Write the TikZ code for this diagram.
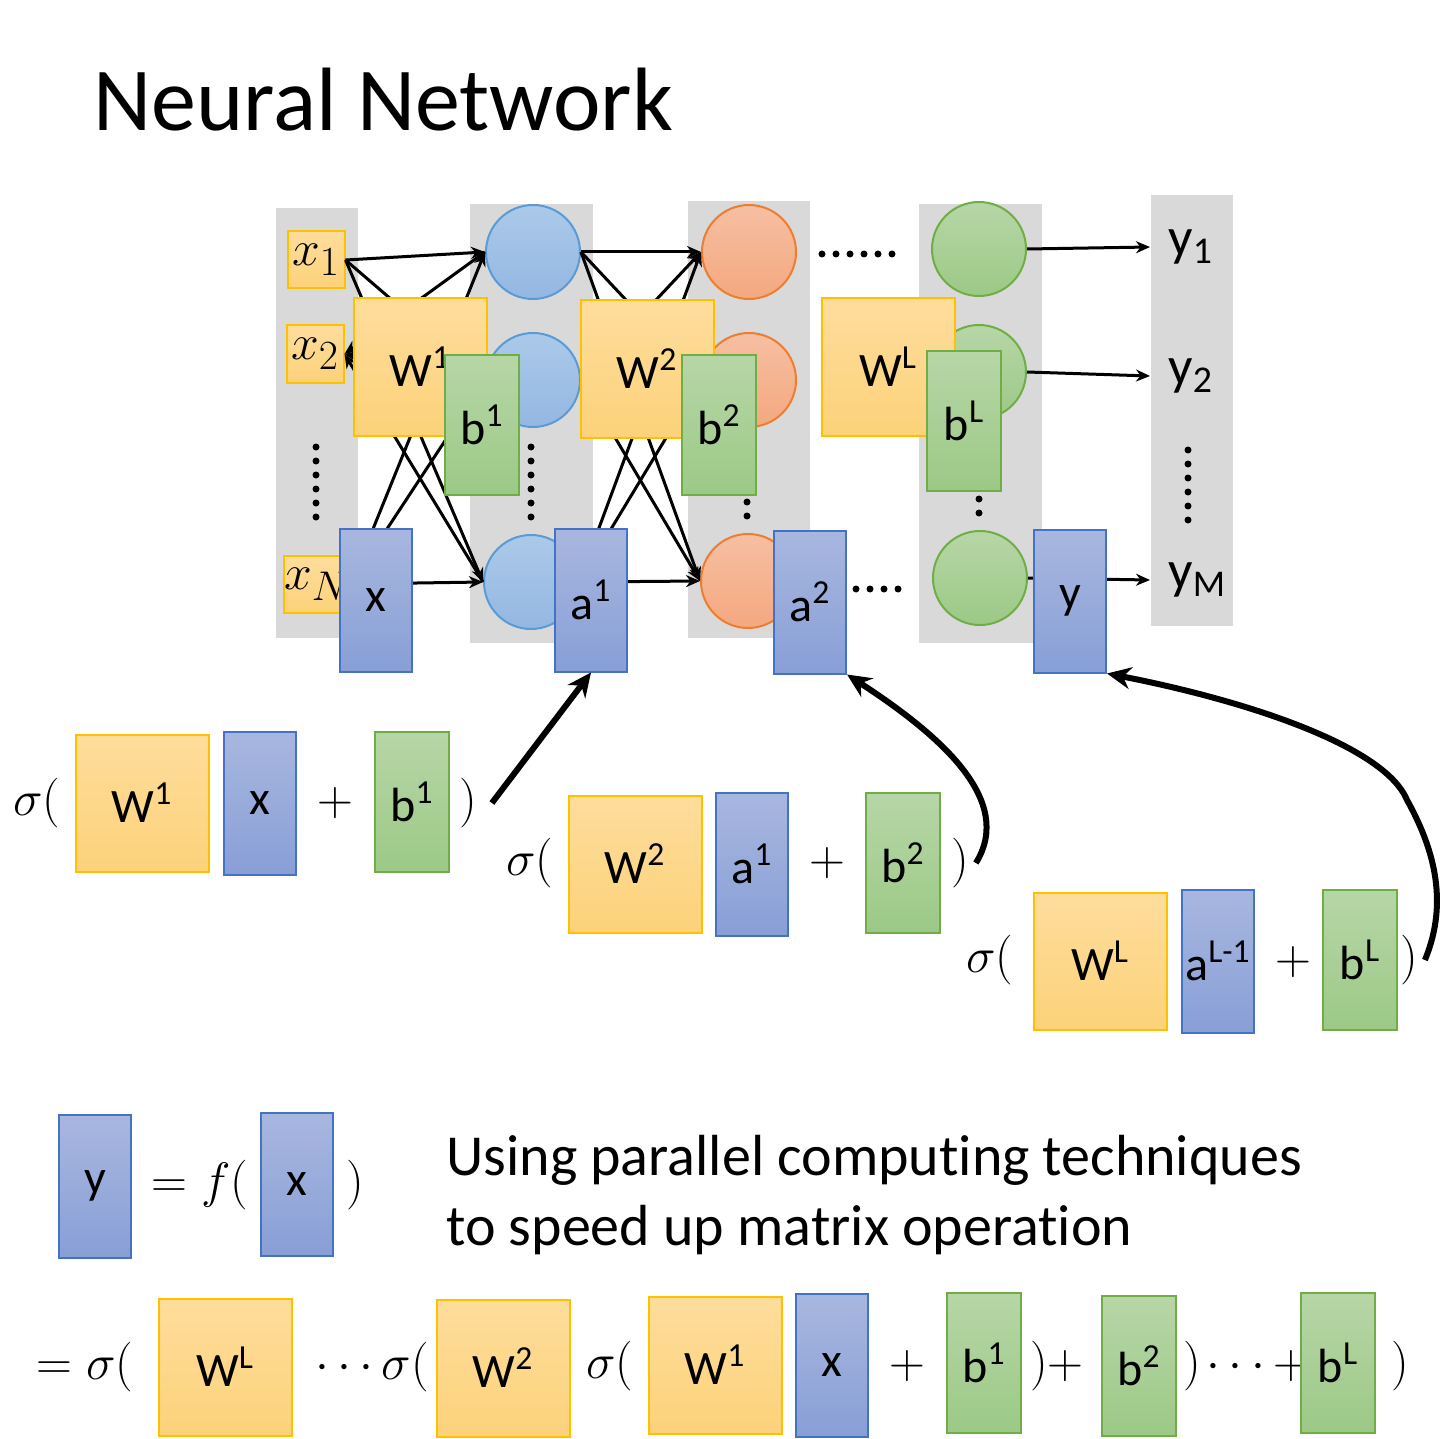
\documentclass[tikz,border=0pt]{standalone}
\usepackage{fontspec}
\setmainfont{Carlito}[Ligatures=NoCommon]
\usetikzlibrary{arrows.meta}

\definecolor{colbg}{RGB}{217,217,217}
\definecolor{wtop}{RGB}{254,221,156}
\definecolor{wbot}{RGB}{252,210,122}
\definecolor{wline}{RGB}{255,192,0}
\definecolor{vtop}{RGB}{168,183,223}
\definecolor{vbot}{RGB}{136,159,214}
\definecolor{vline}{RGB}{68,114,196}
\definecolor{btop}{RGB}{183,214,167}
\definecolor{bbot}{RGB}{156,201,134}
\definecolor{bline}{RGB}{112,173,71}
\definecolor{ntop}{RGB}{171,201,233}
\definecolor{nbot}{RGB}{148,183,226}
\definecolor{nline}{RGB}{91,155,213}
\definecolor{rtop}{RGB}{246,191,162}
\definecolor{rbot}{RGB}{244,168,127}
\definecolor{rline}{RGB}{237,125,49}

\newcommand\titlefont{\fontsize{45}{54}\selectfont}
\newcommand\boxfont{\fontsize{24}{28}\selectfont}
\newcommand\outfont{\fontsize{27}{32}\selectfont}
\newcommand\inpfont{\fontsize{29}{34}\selectfont}
\newcommand\bodyfont{\fontsize{29}{35}\selectfont}

\begin{document}
\begin{tikzpicture}[x=0.5pt,y=-0.5pt,
  wbox/.style={draw=wline,line width=1pt,top color=wtop,bottom color=wbot,
    minimum width=66.5pt,minimum height=68.5pt,inner sep=0pt,font=\boxfont},
  vbox/.style={draw=vline,line width=1pt,top color=vtop,bottom color=vbot,
    minimum width=36pt,minimum height=71.5pt,inner sep=0pt,font=\boxfont},
  bbox/.style={draw=bline,line width=1pt,top color=btop,bottom color=bbot,
    minimum width=37pt,minimum height=70pt,inner sep=0pt,font=\boxfont},
  inbox/.style={draw=wline,line width=1pt,top color=wtop,bottom color=wbot,
    minimum size=28.5pt,inner sep=0pt,font=\inpfont},
  neuron/.style={circle,minimum size=47pt,inner sep=0pt,line width=1pt},
  blueneuron/.style={neuron,draw=nline,top color=ntop,bottom color=nbot},
  redneuron/.style={neuron,draw=rline,top color=rtop,bottom color=rbot},
  greenneuron/.style={neuron,draw=bline,top color=btop,bottom color=bbot},
  sym/.style={font=\boxfont},
  outlabel/.style={anchor=west,inner xsep=9pt,inner ysep=0pt,font=\outfont},
  link/.style={line width=1.5pt,-{Stealth[length=7pt,width=6pt]}},
  bigarrow/.style={line width=3pt,-{Stealth[length=12pt,width=11pt]}},
  dotline/.style={line width=3.5pt,line cap=round,dash pattern=on 0pt off 7pt},
  layerbg/.style={fill=colbg}]
\useasboundingbox (0,0) rectangle (1446,1439);

\node[anchor=base west,inner sep=0pt,font=\titlefont] (title) at (93,131) {Neural Network};

% layer columns
\fill[layerbg] (276,208) rectangle (358,638);
\fill[layerbg] (470,204) rectangle (593,643);
\fill[layerbg] (688,201) rectangle (810,638);
\fill[layerbg] (919,204) rectangle (1042,643);
\fill[layerbg] (1151,195) rectangle (1233,626);

% inputs and neurons
\node[inbox] (x1) at (316,260) {$x_1$};
\node[inbox] (x2) at (315,354) {$x_2$};
\node[inbox] (xN) at (317,584) {$x_N$};

\node[blueneuron] (h1) at (533,252) {};
\node[blueneuron] (h2) at (533,380) {};
\node[blueneuron] (h3) at (531,582) {};
\node[redneuron] (g1) at (749,252) {};
\node[redneuron] (g2) at (749,380) {};
\node[redneuron] (g3) at (748,581) {};
\node[greenneuron] (o1) at (979,249) {};
\node[greenneuron] (o2) at (979,372) {};
\node[greenneuron] (o3) at (980,578) {};

\node[outlabel] (y1) at (1150,247) {y\textsubscript{1}};
\node[outlabel] (y2) at (1150,376) {y\textsubscript{2}};
\node[outlabel] (yM) at (1150,580) {y\textsubscript{M}};

% dots
\draw[dotline] (316,447) -- (316,518);
\draw[dotline] (531,447) -- (531,518);
\draw[dotline] (747,502) -- (747,517);
\draw[dotline] (979,499) -- (979,514);
\draw[dotline] (1188,450) -- (1188,521);
\draw[dotline] (822,254) -- (893,254);
\draw[dotline] (856,589) -- (899,589);

% connections
\foreach \a in {x1,xN}
  \foreach \b in {h1,h2,h3}
    \draw[link] (\a.east) -- (\b.west);
\foreach \b in {h1,h2,h3}
  \draw[link,{Stealth[length=7pt,width=6pt]}-] (x2.east) -- (\b.west);
\foreach \a in {h1,h2,h3}
  \foreach \b in {g1,g2,g3}
    \draw[link] (\a.east) -- (\b.west);
\draw[link] (o1.east) -- (y1.west);
\draw[link] (o2.east) -- (y2.west);
\draw[link] (o3.east) -- (yM.west);

% matrices over the network
\node[wbox] (W1) at (420,367) {W\textsuperscript{1}};
\node[bbox] (b1) at (482,425) {b\textsuperscript{1}};
\node[vbox] (xv) at (376,600) {x};
\node[wbox] (W2) at (647,369) {W\textsuperscript{2}};
\node[bbox] (b2) at (719,425) {b\textsuperscript{2}};
\node[vbox] (a1) at (591,600) {a\textsuperscript{1}};
\node[vbox] (a2) at (810,602) {a\textsuperscript{2}};
\node[wbox] (WL) at (888,367) {W\textsuperscript{L}};
\node[bbox] (bL) at (964,421) {b\textsuperscript{L}};
\node[vbox] (yv) at (1070,601) {y};

% layer 1
\node[sym] (s1) at (37,803) {$\sigma($};
\node[wbox] (fW1) at (142,803) {W\textsuperscript{1}};
\node[vbox] (fx) at (260,803) {x};
\node[sym] (plus1) at (335,803) {$+$};
\node[bbox] (fb1) at (412,802) {b\textsuperscript{1}};
\node[sym] (p1) at (468,803) {$)$};

% layer 2
\node[sym] (s2) at (530,863) {$\sigma($};
\node[wbox] (fW2) at (635,864) {W\textsuperscript{2}};
\node[vbox] (fa1) at (752,864) {a\textsuperscript{1}};
\node[sym] (plus2) at (827,863) {$+$};
\node[bbox] (fb2) at (903,863) {b\textsuperscript{2}};
\node[sym] (p2) at (960,863) {$)$};

% layer L
\node[sym] (s3) at (990,960) {$\sigma($};
\node[wbox] (fWL) at (1100,961) {W\textsuperscript{L}};
\node[vbox] (faL) at (1218,961) {a\textsuperscript{L-1}};
\node[sym] (plus3) at (1293,962) {$+$};
\node[bbox] (fbL) at (1360,960) {b\textsuperscript{L}};
\node[sym] (p3) at (1409,960) {$)$};

\draw[bigarrow] ([xshift=4pt]p1.east) -- (a1.south);
\draw[bigarrow] (p2.east) .. controls (1015,800) and (940,735) .. (a2.south east);
\draw[bigarrow] (p3.east) .. controls (1450,900) and (1432,845) .. (1407,800)
  .. controls (1384,745) and (1243,700) .. (yv.south east);

% whole network
\node[vbox] (ty) at (95,1186) {y};
\node[sym] (eqf) at (200,1185) {$=f($};
\node[vbox] (tx) at (297,1184) {x};
\node[sym] (tp) at (355,1185) {$)$};
\node[anchor=base west,inner sep=0pt,font=\bodyfont] (txt1) at (446,1175) {Using parallel computing techniques};
\node[anchor=base west,inner sep=0pt,font=\bodyfont] (txt2) at (446,1245) {to speed up matrix operation};

\node[sym] (q1) at (85,1367) {$=\sigma($};
\node[wbox] (nWL) at (225,1367) {W\textsuperscript{L}};
\node[sym] (q2) at (372,1367) {$\cdots\sigma($};
\node[wbox] (nW2) at (503,1368) {W\textsuperscript{2}};
\node[sym] (q3) at (610,1366) {$\sigma($};
\node[wbox] (nW1) at (715,1365) {W\textsuperscript{1}};
\node[vbox] (nx) at (832,1365) {x};
\node[sym] (q4) at (907,1366) {$+$};
\node[bbox] (nb1) at (984,1363) {b\textsuperscript{1}};
\node[sym] (q5) at (1057,1366) {$)+$};
\node[bbox] (nb2) at (1139,1366) {b\textsuperscript{2}};
\node[sym] (q6) at (1192,1366) {$)$};
\node[sym] (q7) at (1258,1366) {$\cdots+$};
\node[bbox] (nbL) at (1338,1363) {b\textsuperscript{L}};
\node[sym] (q8) at (1400,1366) {$)$};
\end{tikzpicture}
\end{document}
